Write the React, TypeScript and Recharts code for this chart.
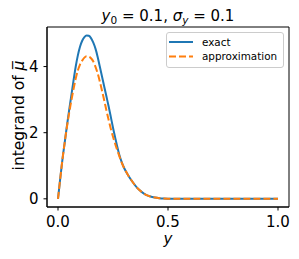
import React from "react";
import { LineChart, Line, XAxis, YAxis, ReferenceArea } from "recharts";

const xs = [
  0, 0.01, 0.02, 0.03, 0.04, 0.05, 0.06, 0.07, 0.08, 0.09, 0.1, 0.11, 0.12, 0.13, 0.14, 0.15,
  0.16, 0.17, 0.18, 0.19, 0.2, 0.21, 0.22, 0.23, 0.24, 0.25, 0.26, 0.27, 0.28, 0.29, 0.3,
  0.32, 0.34, 0.36, 0.38, 0.4, 0.42, 0.44, 0.46, 0.48, 0.5,
  0.55, 0.6, 0.65, 0.7, 0.75, 0.8, 0.85, 0.9, 0.95, 1.0,
];

const exactVals = [
  0, 0.6, 1.18, 1.68, 2.18, 2.65, 3.1, 3.55, 3.98, 4.33, 4.6, 4.78, 4.89, 4.94, 4.93, 4.86,
  4.73, 4.55, 4.3, 4.0, 3.7, 3.4, 3.1, 2.8, 2.48, 2.15, 1.85, 1.56, 1.3, 1.1, 0.94,
  0.7, 0.5, 0.33, 0.21, 0.12, 0.07, 0.04, 0.02, 0.008, 0.003,
  0, 0, 0, 0, 0, 0, 0, 0, 0, 0,
];

const approxVals = [
  0, 0.6, 1.18, 1.68, 2.15, 2.57, 2.95, 3.3, 3.62, 3.88, 4.06, 4.18, 4.27, 4.31, 4.3, 4.25,
  4.16, 4.0, 3.8, 3.55, 3.27, 2.98, 2.68, 2.39, 2.12, 1.88, 1.66, 1.46, 1.27, 1.09, 0.94,
  0.7, 0.5, 0.33, 0.21, 0.12, 0.07, 0.04, 0.02, 0.008, 0.003,
  0, 0, 0, 0, 0, 0, 0, 0, 0, 0,
];

const xTicks = [0, 0.5, 1.0];
const yTicks = [0, 2, 4];
const seriesNames = ["exact", "approximation"];

const data = xs.map((x, i) => ({ x, exact: exactVals[i], approx: approxVals[i] }));

const FONT = "DejaVu Sans";
const BLUE = "#1f77b4";
const ORANGE = "#ff7f0e";

const LegendBox = () => (
  <svg width={119} height={37} style={{ position: "absolute", left: 166, top: 32, pointerEvents: "none" }}>
    <rect x={0.5} y={0.5} width={117} height={35} rx={2.5} fill="#fff" fillOpacity={0.8} stroke="#cccccc" strokeWidth={1} />
    <line x1={3} x2={27} y1={10} y2={10} stroke={BLUE} strokeWidth={2} />
    <text x={36} y={13.7} fontSize={10.4} fontFamily={FONT} fill="#000">{seriesNames[0]}</text>
    <line x1={3} x2={27} y1={24.5} y2={24.5} stroke={ORANGE} strokeWidth={2} strokeDasharray="7 3" />
    <text x={36} y={28.2} fontSize={10.4} fontFamily={FONT} fill="#000">{seriesNames[1]}</text>
  </svg>
);

export default function App() {
  const tickStyle = { fill: "#000", fontSize: 15, fontFamily: FONT };
  return (
    <div style={{ position: "absolute", left: 0, top: 0, width: 299, height: 259, background: "#fff" }}>
      <LineChart width={299} height={259} data={data} margin={{ top: 27, right: 10, bottom: 0, left: 0 }}>
        <XAxis
          dataKey="x"
          type="number"
          domain={[-0.05, 1.05]}
          ticks={xTicks}
          tickFormatter={(v: number) => v.toFixed(1)}
          height={52}
          tickSize={3.5}
          tickMargin={5.5}
          tick={tickStyle}
          tickLine={{ stroke: "#000", strokeWidth: 1 }}
          axisLine={{ stroke: "#000", strokeWidth: 1 }}
          allowDataOverflow
        />
        <YAxis
          type="number"
          domain={[-0.2475, 5.197]}
          ticks={yTicks}
          width={47}
          tickSize={3.5}
          tickMargin={5}
          tick={tickStyle}
          tickLine={{ stroke: "#000", strokeWidth: 1 }}
          axisLine={{ stroke: "#000", strokeWidth: 1 }}
          allowDataOverflow
        />
        <ReferenceArea
          x1={-0.05}
          x2={1.05}
          y1={-0.2475}
          y2={5.197}
          fill="none"
          fillOpacity={0}
          stroke="#000"
          strokeWidth={1}
          ifOverflow="visible"
        />
        <Line dataKey="exact" type="monotone" stroke={BLUE} strokeWidth={2} dot={false} isAnimationActive={false} />
        <Line
          dataKey="approx"
          type="monotone"
          stroke={ORANGE}
          strokeWidth={2}
          strokeDasharray="7 3"
          dot={false}
          isAnimationActive={false}
        />
      </LineChart>
      <LegendBox />
      <svg
        width={299}
        height={259}
        style={{ position: "absolute", left: 0, top: 0, pointerEvents: "none", whiteSpace: "pre" }}
      >
        <text x={168} y={20.5} textAnchor="middle" fontSize={15} fontFamily={FONT} fill="#000">
          <tspan fontStyle="italic">y</tspan>
          <tspan fontSize={10.5} dy={3}>0</tspan>
          <tspan dy={-3}> = 0.1, </tspan>
          <tspan fontStyle="italic">σ</tspan>
          <tspan fontStyle="italic" fontSize={10.5} dy={3}>y</tspan>
          <tspan dy={-3}> = 0.1</tspan>
        </text>
        <text
          transform="translate(23.5,115.5) rotate(-90)"
          textAnchor="middle"
          fontSize={15.5}
          fontFamily={FONT}
          fill="#000"
        >
          integrand of <tspan fontStyle="italic">{"μ\u0305"}</tspan>
        </text>
        <text x={168} y={244} textAnchor="middle" fontSize={15} fontFamily={FONT} fontStyle="italic" fill="#000">
          y
        </text>
      </svg>
    </div>
  );
}
